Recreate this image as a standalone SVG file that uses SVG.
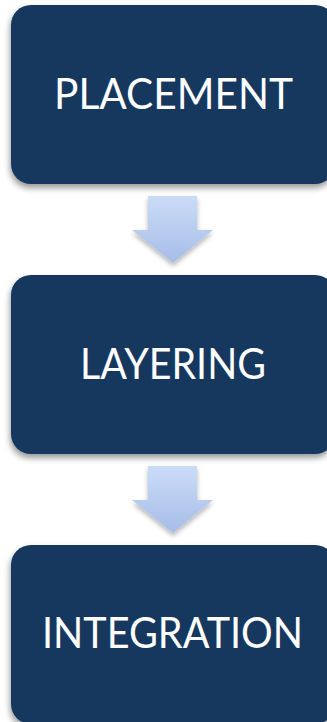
<svg xmlns="http://www.w3.org/2000/svg" width="327" height="722" viewBox="0 0 327 722">
<style>
.box{fill:#17375e;filter:url(#sh)}
.lbl{font-family:Lato,"Open Sans","Liberation Sans",sans-serif;font-weight:400;font-size:43px;fill:#ffffff;text-anchor:middle}
.arr{fill:url(#ag);filter:url(#sh2)}
</style>
<defs>
<filter id="sh" x="-10%" y="-10%" width="120%" height="125%">
<feGaussianBlur in="SourceAlpha" stdDeviation="3"/>
<feOffset dx="-1" dy="4" result="b"/>
<feComponentTransfer in="b" result="c"><feFuncA type="linear" slope="0.4"/></feComponentTransfer>
<feMerge><feMergeNode in="c"/><feMergeNode in="SourceGraphic"/></feMerge>
</filter>
<filter id="sh2" x="-20%" y="-20%" width="140%" height="150%">
<feGaussianBlur in="SourceAlpha" stdDeviation="2.5"/>
<feOffset dx="0" dy="3" result="b"/>
<feComponentTransfer in="b" result="c"><feFuncA type="linear" slope="0.3"/></feComponentTransfer>
<feMerge><feMergeNode in="c"/><feMergeNode in="SourceGraphic"/></feMerge>
</filter>
<linearGradient id="ag" x1="0" y1="0" x2="0" y2="1">
<stop offset="0" stop-color="#cadcf8"/>
<stop offset="1" stop-color="#a6bde6"/>
</linearGradient>
</defs>
<g id="connectors">
<path class="arr" d="M148,196 H197 V230 H213 L173,263 L132,230 H148 Z"/>
<path class="arr" d="M148,466 H197 V500 H213 L173,533 L132,500 H148 Z"/>
</g>
<g id="placement">
<rect class="box" x="11" y="5" width="324" height="179" rx="20"/>
<text class="lbl" x="173.5" y="109" textLength="239" lengthAdjust="spacingAndGlyphs">PLACEMENT</text>
</g>
<g id="layering">
<rect class="box" x="11" y="275" width="324" height="179" rx="20"/>
<text class="lbl" x="173" y="379" textLength="186" lengthAdjust="spacingAndGlyphs">LAYERING</text>
</g>
<g id="integration">
<rect class="box" x="11" y="545" width="324" height="179" rx="20"/>
<text class="lbl" x="172.5" y="648" textLength="261" lengthAdjust="spacingAndGlyphs">INTEGRATION</text>
</g>
</svg>
